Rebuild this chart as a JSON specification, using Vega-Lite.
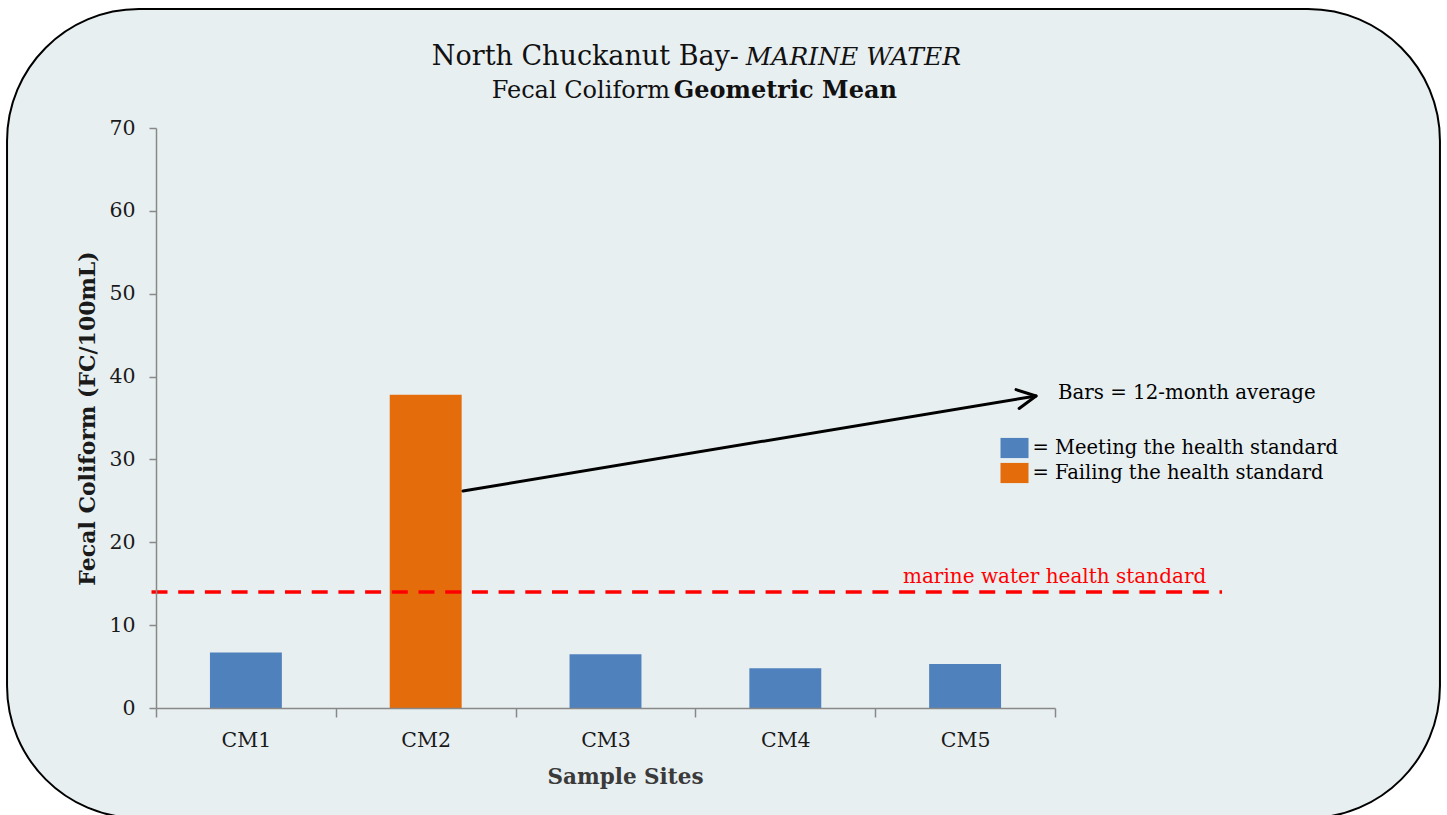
{
  "$schema": "https://vega.github.io/schema/vega-lite/v6.json",
  "width": 899,
  "height": 580,
  "autosize": {"type": "none"},
  "padding": {"left": 156, "top": 128, "right": 392, "bottom": 107},
  "background": "#ffffff",
  "config": {
    "view": {"stroke": null},
    "axis": {"zindex": 1},
    "legend": {"zindex": 1},
    "text": {"font": "DejaVu Serif"}
  },
  "data": {
    "values": [
      {"site": "CM1", "value": 6.7, "status": "= Meeting the health standard"},
      {"site": "CM2", "value": 37.8, "status": "= Failing the health standard"},
      {"site": "CM3", "value": 6.5, "status": "= Meeting the health standard"},
      {"site": "CM4", "value": 4.8, "status": "= Meeting the health standard"},
      {"site": "CM5", "value": 5.3, "status": "= Meeting the health standard"}
    ]
  },
  "layer": [
    {
      "data": {"values": [{}]},
      "mark": {"type": "rect", "cornerRadius": 132, "fill": "#e8eff1", "stroke": "#000000", "strokeWidth": 2, "zindex": 0},
      "encoding": {
        "x": {"datum": -16.57, "type": "quantitative", "scale": {"domain": [0, 100], "nice": false, "zero": false}, "axis": null},
        "x2": {"datum": 142.82},
        "y": {"datum": 84.36, "type": "quantitative", "scale": {"domain": [0, 70], "nice": false, "zero": false}, "axis": null},
        "y2": {"datum": -13.28}
      }
    },
    {
      "mark": {"type": "bar", "width": {"band": 0.4}},
      "encoding": {
        "x": {
          "field": "site", "type": "nominal", "sort": ["CM1", "CM2", "CM3", "CM4", "CM5"],
          "scale": {"paddingInner": 0, "paddingOuter": 0},
          "axis": {
            "orient": "bottom", "zindex": 2,
            "title": "Sample Sites", "titleFont": "DejaVu Serif", "titleFontSize": 21.5, "titleFontWeight": "bold", "titleColor": "#3a3a3a",
            "titleX": 469, "titlePadding": 16,
            "labelAngle": 0, "labelFont": "DejaVu Serif", "labelFontSize": 20.5, "labelColor": "#1a1a1a", "labelPadding": 13,
            "tickBand": "extent", "tickSize": 9, "tickColor": "#888888", "tickWidth": 1.5,
            "domainColor": "#888888", "domainWidth": 1.5
          }
        },
        "y": {
          "field": "value", "type": "quantitative",
          "scale": {"domain": [0, 70], "nice": false, "zero": true},
          "axis": {
            "orient": "left", "zindex": 2,
            "title": "Fecal Coliform (FC/100mL)", "titleFont": "DejaVu Serif", "titleFontSize": 22, "titleFontWeight": "bold", "titleColor": "#1a1a1a",
            "titlePadding": 9,
            "values": [0, 10, 20, 30, 40, 50, 60, 70],
            "grid": false,
            "labelFont": "DejaVu Serif", "labelFontSize": 20.5, "labelColor": "#1a1a1a", "labelPadding": 14,
            "tickSize": 7, "tickColor": "#888888", "tickWidth": 1.5,
            "domainColor": "#888888", "domainWidth": 1.5
          }
        },
        "color": {
          "field": "status", "type": "nominal",
          "scale": {"domain": ["= Meeting the health standard", "= Failing the health standard"], "range": ["#4f81bd", "#e46c0a"]},
          "legend": {
            "orient": "none", "legendX": 844.5, "legendY": 306, "title": null, "zindex": 2,
            "symbolType": "M-1,-0.72L1,-0.72L1,0.72L-1,0.72Z", "symbolSize": 784, "symbolStrokeWidth": 0,
            "labelFont": "DejaVu Serif", "labelFontSize": 19.5, "labelColor": "#000000", "labelOffset": 4, "labelLimit": 500,
            "rowPadding": 0, "padding": 0
          }
        }
      }
    },
    {
      "data": {"values": [{}]},
      "mark": {"type": "rule", "color": "#ff0000", "strokeWidth": 3.5, "strokeDash": [16, 10.7]},
      "encoding": {
        "x": {"datum": -0.5, "type": "quantitative", "scale": {"domain": [0, 100], "nice": false, "zero": false}, "axis": null},
        "x2": {"datum": 118.58},
        "y": {"datum": 14, "type": "quantitative", "scale": {"domain": [0, 70], "nice": false, "zero": false}, "axis": null}
      }
    },
    {
      "data": {"values": [{}]},
      "mark": {"type": "rule", "color": "#000000", "strokeWidth": 3, "strokeCap": "round"},
      "encoding": {
        "x": {"datum": 34.15, "type": "quantitative", "scale": {"domain": [0, 100], "nice": false, "zero": false}, "axis": null},
        "x2": {"datum": 97.89},
        "y": {"datum": 26.19, "type": "quantitative", "scale": {"domain": [0, 70], "nice": false, "zero": false}, "axis": null},
        "y2": {"datum": 37.66}
      }
    },
    {
      "data": {"values": [{}]},
      "mark": {"type": "point", "shape": "M-1,-0.51L0,0L-1,0.51", "filled": false, "stroke": "#000000", "strokeWidth": 3, "strokeCap": "round", "strokeJoin": "round", "opacity": 1, "size": 1400, "angle": -9.4},
      "encoding": {
        "x": {"datum": 97.89, "type": "quantitative", "scale": {"domain": [0, 100], "nice": false, "zero": false}, "axis": null},
        "y": {"datum": 37.66, "type": "quantitative", "scale": {"domain": [0, 70], "nice": false, "zero": false}, "axis": null}
      }
    },
    {
      "data": {"values": [{}]},
      "mark": {"type": "text", "align": "right", "baseline": "alphabetic", "fontSize": 27, "color": "#111111"},
      "encoding": {
        "x": {"datum": 64.85, "type": "quantitative", "scale": {"domain": [0, 100], "nice": false, "zero": false}, "axis": null},
        "y": {"datum": 77.6, "type": "quantitative", "scale": {"domain": [0, 70], "nice": false, "zero": false}, "axis": null},
        "text": {"value": "North Chuckanut Bay-"}
      }
    },
    {
      "data": {"values": [{}]},
      "mark": {"type": "text", "align": "left", "baseline": "alphabetic", "fontSize": 25, "fontStyle": "italic", "color": "#111111"},
      "encoding": {
        "x": {"datum": 65.6, "type": "quantitative", "scale": {"domain": [0, 100], "nice": false, "zero": false}, "axis": null},
        "y": {"datum": 77.6, "type": "quantitative", "scale": {"domain": [0, 70], "nice": false, "zero": false}, "axis": null},
        "text": {"value": "MARINE WATER"}
      }
    },
    {
      "data": {"values": [{}]},
      "mark": {"type": "text", "align": "right", "baseline": "alphabetic", "fontSize": 24, "color": "#111111"},
      "encoding": {
        "x": {"datum": 57.17, "type": "quantitative", "scale": {"domain": [0, 100], "nice": false, "zero": false}, "axis": null},
        "y": {"datum": 73.59, "type": "quantitative", "scale": {"domain": [0, 70], "nice": false, "zero": false}, "axis": null},
        "text": {"value": "Fecal Coliform"}
      }
    },
    {
      "data": {"values": [{}]},
      "mark": {"type": "text", "align": "left", "baseline": "alphabetic", "fontSize": 24, "fontWeight": "bold", "color": "#111111"},
      "encoding": {
        "x": {"datum": 57.6, "type": "quantitative", "scale": {"domain": [0, 100], "nice": false, "zero": false}, "axis": null},
        "y": {"datum": 73.59, "type": "quantitative", "scale": {"domain": [0, 70], "nice": false, "zero": false}, "axis": null},
        "text": {"value": "Geometric Mean"}
      }
    },
    {
      "data": {"values": [{}]},
      "mark": {"type": "text", "align": "left", "baseline": "alphabetic", "fontSize": 19.8, "color": "#000000"},
      "encoding": {
        "x": {"datum": 100.33, "type": "quantitative", "scale": {"domain": [0, 100], "nice": false, "zero": false}, "axis": null},
        "y": {"datum": 37.29, "type": "quantitative", "scale": {"domain": [0, 70], "nice": false, "zero": false}, "axis": null},
        "text": {"value": "Bars = 12-month average"}
      }
    },
    {
      "data": {"values": [{}]},
      "mark": {"type": "text", "align": "left", "baseline": "alphabetic", "fontSize": 20, "color": "#ff0000"},
      "encoding": {
        "x": {"datum": 83.09, "type": "quantitative", "scale": {"domain": [0, 100], "nice": false, "zero": false}, "axis": null},
        "y": {"datum": 15.12, "type": "quantitative", "scale": {"domain": [0, 70], "nice": false, "zero": false}, "axis": null},
        "text": {"value": "marine water health standard"}
      }
    }
  ],
  "resolve": {"scale": {"x": "independent", "y": "independent"}}
}
